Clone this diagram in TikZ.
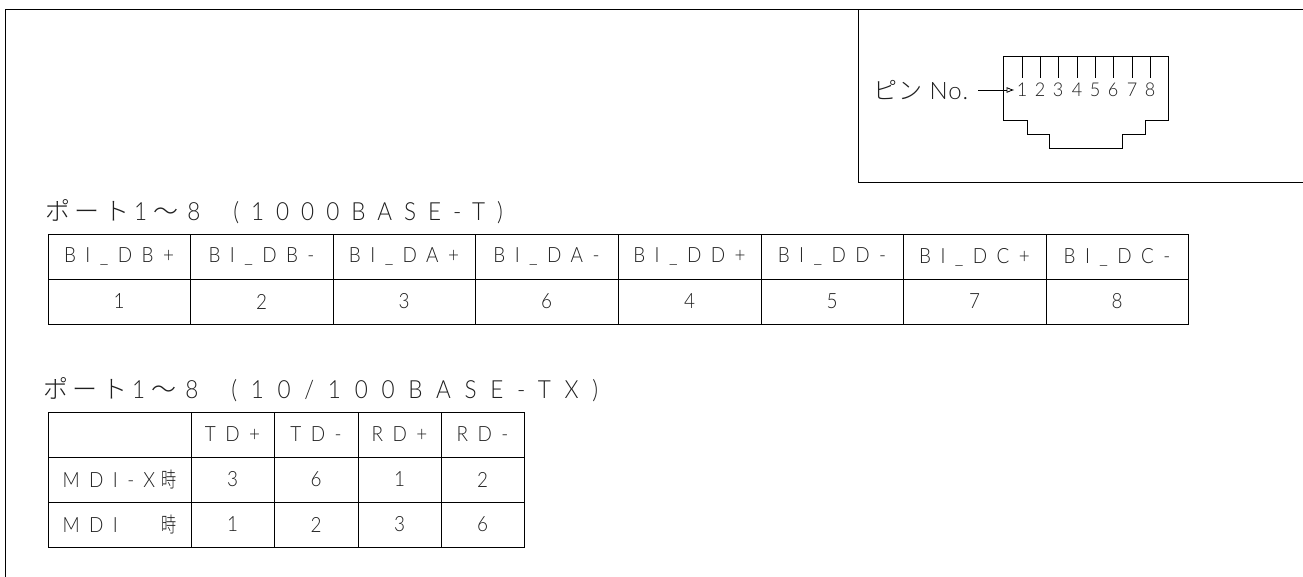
\documentclass[tikz,border=0pt]{standalone}
\usepackage{fontspec}
\usetikzlibrary{arrows.meta}
\setmainfont{Lato}[UprightFont=* Light]
\newfontfamily\lsA{Lato}[UprightFont=* Light,FakeStretch=0.9,LetterSpace=50]
\newfontfamily\lsT{Lato}[UprightFont=* Light,FakeStretch=0.9,LetterSpace=48]
\newfontfamily\lsC{Lato}[UprightFont=* Light,FakeStretch=0.9,LetterSpace=55]
\newfontfamily\lsB{Lato}[UprightFont=* Light,FakeStretch=0.9,LetterSpace=45]
\newfontfamily\lsD{Lato}[UprightFont=* Light,FakeStretch=0.95]
\newfontfamily\lsN{Lato}[UprightFont=* Light,LetterSpace=4]
\newfontfamily\cjk{Noto Sans CJK JP}[UprightFont=* Light,LetterSpace=18]
\newfontfamily\cjkp{Noto Sans CJK JP}[UprightFont=* Light,LetterSpace=4]
\newfontfamily\cjkn{Noto Sans CJK JP}[UprightFont=* Light,FakeStretch=0.72]
\definecolor{ink}{gray}{0.12}
\tikzset{
 x=1pt,y=-1pt,
 frameline/.style={draw=black,line width=1pt},
 cellbox/.style={draw=black,line width=1pt,rectangle,inner sep=0pt,outer sep=0pt,text=ink,font=\fontsize{21}{21}\selectfont\lsB},
 titletext/.style={anchor=west,inner sep=0pt,text=ink,font=\fontsize{25}{25}\selectfont\lsA},
 pindigit/.style={inner sep=0pt,text=ink,font=\fontsize{19}{19}\selectfont\lsD},
 pinline/.style={draw=black,line width=0.9pt},
}
\newcommand{\cellat}[6]{\node[cellbox,minimum width=#3-#1,minimum height=#4-#2,
 anchor=north west] (#5) at (#1,#2) {#6};}
\newcommand{\portprefix}{{\cjk ポート}\hspace{5pt}1\hspace{6pt}{\cjk 〜}\hspace{9pt}8\hspace{33pt}}
\begin{document}
\begin{tikzpicture}
\useasboundingbox (0,0) rectangle (1303,577);
% frame
\coordinate (fa) at (5.5,577);
\coordinate (fb) at (5.5,10);
\coordinate (fc) at (1303,10);
\coordinate (fd) at (858,10);
\coordinate (fe) at (858,183);
\coordinate (ff) at (1303,183);
\draw[frameline] (fa) -- (fb) -- (fc);
\draw[frameline] (fd) -- (fe) -- (ff);
% connector outline
\draw[pinline] (1003,56) -- (1168,56) -- (1168,120) -- (1145,120) -- (1145,134) -- (1122,134) -- (1122,148) -- (1049,148) -- (1049,134) -- (1027,134) -- (1027,120) -- (1003,120) -- cycle;
\foreach \n/\x in {1/1022,2/1040,3/1058,4/1077,5/1095,6/1113,7/1132,8/1150}{
 \node[pindigit] (d\n) at (\x,90) {\n};
 \coordinate (p\n) at (\x,56);
 \draw[pinline] (p\n) -- (\x,78);
}
\node[anchor=west,inner sep=0pt,text=ink,font=\fontsize{24}{24}\selectfont\lsN] (pinlabel) at (873,90) {{\cjkp ピン} No.};
\coordinate (astart) at (978,90);
\draw[line width=0.8pt,shorten >=2pt,-{Latex[open,length=8pt,width=6pt]}] (astart) -- (d1.west);
% titles
\node[titletext] (t1) at (45,212) {\portprefix{\lsT (1000BASE-T)}};
\node[titletext] (t2) at (43,390) {\portprefix{\lsC (10/100BASE-TX)}};
% table 1
\cellat{48}{235}{190}{279}{a1}{BI\_DB+}
\cellat{190}{235}{333}{279}{a2}{BI\_DB-}
\cellat{333}{235}{475}{279}{a3}{BI\_DA+}
\cellat{475}{235}{618}{279}{a4}{BI\_DA-}
\cellat{618}{235}{761}{279}{a5}{BI\_DD+}
\cellat{761}{235}{903}{279}{a6}{BI\_DD-}
\cellat{903}{235}{1046}{279}{a7}{BI\_DC+}
\cellat{1046}{235}{1188}{279}{a8}{BI\_DC-}
\cellat{48}{279}{190}{324}{b1}{1}
\cellat{190}{279}{333}{324}{b2}{2}
\cellat{333}{279}{475}{324}{b3}{3}
\cellat{475}{279}{618}{324}{b4}{6}
\cellat{618}{279}{761}{324}{b5}{4}
\cellat{761}{279}{903}{324}{b6}{5}
\cellat{903}{279}{1046}{324}{b7}{7}
\cellat{1046}{279}{1188}{324}{b8}{8}
% table 2
\cellat{48}{412}{191}{457}{c0}{}
\cellat{191}{412}{274}{457}{c1}{TD+}
\cellat{274}{412}{358}{457}{c2}{TD-}
\cellat{358}{412}{441}{457}{c3}{RD+}
\cellat{441}{412}{524}{457}{c4}{RD-}
\cellat{48}{457}{191}{502}{e0}{\makebox[114pt][s]{MDI-X\hfill{\cjkn 時}}}
\cellat{191}{457}{274}{502}{e1}{3}
\cellat{274}{457}{358}{502}{e2}{6}
\cellat{358}{457}{441}{502}{e3}{1}
\cellat{441}{457}{524}{502}{e4}{2}
\cellat{48}{502}{191}{547}{f0}{\makebox[114pt][s]{MDI\hfill{\cjkn 時}}}
\cellat{191}{502}{274}{547}{f1}{1}
\cellat{274}{502}{358}{547}{f2}{2}
\cellat{358}{502}{441}{547}{f3}{3}
\cellat{441}{502}{524}{547}{f4}{6}
\end{tikzpicture}
\end{document}
